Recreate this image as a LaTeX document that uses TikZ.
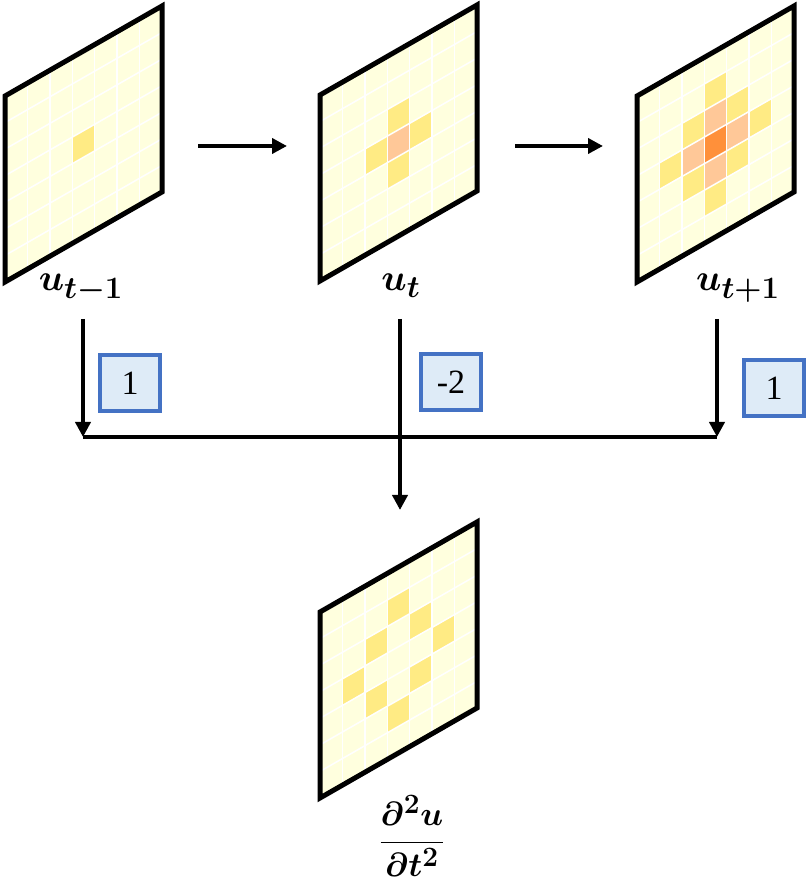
\RequirePackage{fix-cm}
\documentclass[tikz,border=0pt]{standalone}
\usepackage{amsmath, amssymb}
\usepackage{bm}
\usepackage{fontspec}
\newfontfamily\numfont{Liberation Serif}
\usepackage{tikz}
\usetikzlibrary{arrows.meta, calc}
\usepackage{xcolor}

\definecolor{sheetbg}{HTML}{FFFFDE}
\definecolor{cellY}{HTML}{FFEB84}
\definecolor{cellP}{HTML}{FFC898}
\definecolor{cellO}{HTML}{FF903A}
\definecolor{coeffill}{HTML}{DEEBF7}
\definecolor{coefline}{HTML}{4472C4}

\tikzset{
    gridline/.style={white, line width=1.5pt},
    frame/.style={line width=5pt, line join=miter},
    arr/.style={-{Triangle[length=15pt, width=15pt]}, line width=4pt},
    wire/.style={line width=4pt},
    coef/.style={draw=coefline, fill=coeffill, line width=3.5pt, minimum width=60pt,
        minimum height=56pt, inner sep=0pt, font=\numfont\fontsize{34}{36}\selectfont},
    lbl/.style={font=\fontsize{24.88}{30}\selectfont, anchor=base, scale=1.5},
    fraclbl/.style={font=\fontsize{24.88}{30}\selectfont, anchor=base, scale=1.35}
}

% 7x7 sheet, sheared; #1 = bottom-left corner, #2 = list c/r/colour
\newcommand{\fieldpanel}[2]{%
    \begin{scope}[shift={#1}, x={(22.43pt,12.86pt)}, y={(0pt,26.57pt)}]
        \fill[sheetbg] (0,0) -- (7,0) -- (7,7) -- (0,7) -- cycle;
        \foreach \c/\r/\col in {#2}
            \fill[\col] (\c,\r) -- ++(1,0) -- ++(0,1) -- ++(-1,0) -- cycle;
        \foreach \i in {1,...,6} {
            \draw[gridline] (\i,0) -- (\i,7);
            \draw[gridline] (0,\i) -- (7,\i);
        }
        \draw[frame] (0,0) -- (7,0) -- (7,7) -- (0,7) -- cycle;
    \end{scope}}

\begin{document}
\begin{tikzpicture}[x=1pt, y=1pt]
    \useasboundingbox (0,0) rectangle (806,889);

    % u_{t-1}
    \fieldpanel{(5,607)}{3/3/cellY}
    % u_t
    \fieldpanel{(320,608)}{3/3/cellP, 3/4/cellY, 3/2/cellY, 2/3/cellY, 4/3/cellY}
    % u_{t+1}
    \fieldpanel{(637,607)}{3/3/cellO, 3/4/cellP, 3/2/cellP, 2/3/cellP, 4/3/cellP,
        3/5/cellY, 3/1/cellY, 1/3/cellY, 5/3/cellY, 2/4/cellY, 4/4/cellY, 2/2/cellY, 4/2/cellY}
    % second derivative
    \fieldpanel{(320,91)}{3/5/cellY, 3/1/cellY, 1/3/cellY, 5/3/cellY,
        2/4/cellY, 4/4/cellY, 2/2/cellY, 4/2/cellY}

    % labels
    \node[lbl] (lblprev) at (81,598) {$\bm{u}_{\bm{t-1}}$};
    \node[lbl] (lblcur)  at (401,598) {$\bm{u}_{\bm{t}}$};
    \node[lbl] (lblnext) at (738,598) {$\bm{u}_{\bm{t+1}}$};
    \node[fraclbl] (lbldiff) at (412,38) {$\displaystyle\bm{\frac{\partial^2 u}{\partial t^2}}$};

    % time steps
    \coordinate (step1s) at (198,743);
    \coordinate (step1e) at (287,743);
    \coordinate (step2s) at (515,743);
    \coordinate (step2e) at (603,743);
    \draw[arr] (step1s) -- (step1e);
    \draw[arr] (step2s) -- (step2e);

    % stencil weights
    \coordinate (prevout) at (83,570);
    \coordinate (curout)  at (400,570);
    \coordinate (nextout) at (717,570);
    \coordinate (busL) at (83,452);
    \coordinate (busR) at (717,452);
    \coordinate (sumin) at (400,379);

    \draw[wire] (busL) -- (busR);
    \draw[arr] (prevout) -- (busL);
    \draw[arr] (nextout) -- (busR);
    \draw[arr] (curout) -- (sumin);

    \node[coef] (wprev) at (130,506) {1};
    \node[coef] (wcur)  at (451,507) {-2};
    \node[coef] (wnext) at (774,501) {1};
\end{tikzpicture}
\end{document}
